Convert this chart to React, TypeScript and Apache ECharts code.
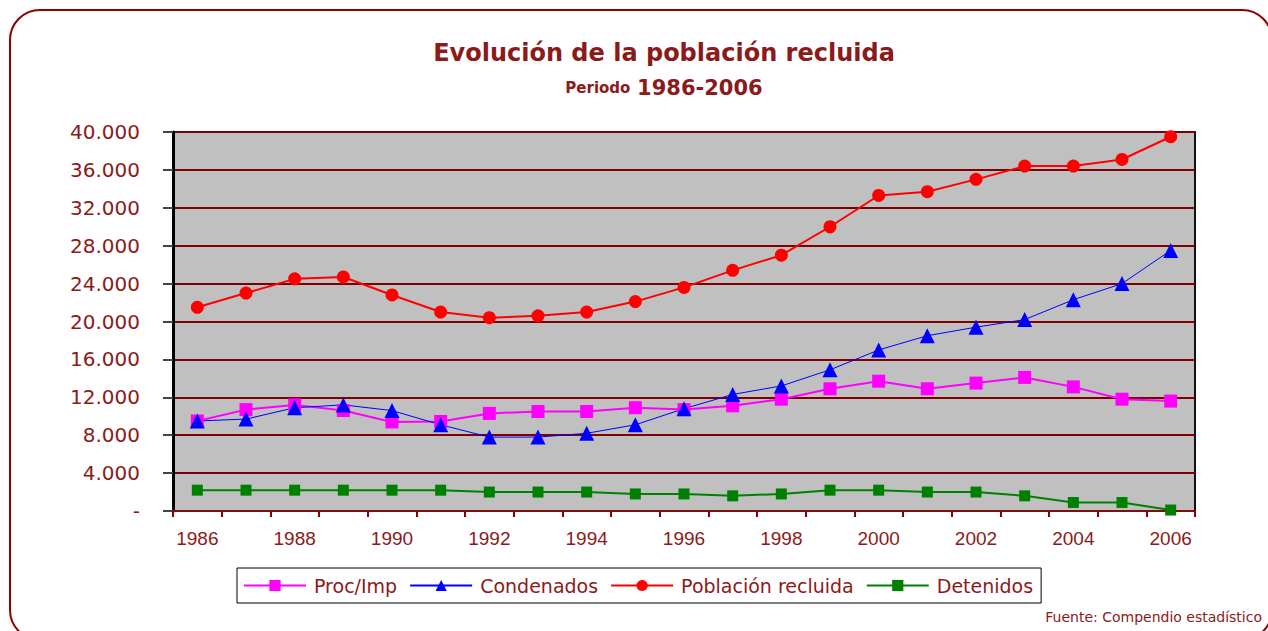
import React, { useEffect, useRef } from "react";
import * as echarts from "echarts";

const years = ["1986","1987","1988","1989","1990","1991","1992","1993","1994","1995","1996","1997","1998","1999","2000","2001","2002","2003","2004","2005","2006"];
const procImp = [9500,10700,11200,10600,9400,9450,10300,10500,10500,10900,10700,11100,11800,12900,13700,12900,13500,14100,13100,11800,11600];
const condenados = [9500,9700,10900,11200,10600,9100,7800,7800,8200,9100,10800,12300,13200,14900,17000,18500,19400,20200,22300,24000,27500];
const poblacion = [21500,23000,24500,24700,22800,21000,20400,20600,21000,22100,23600,25400,27000,30000,33300,33700,35000,36400,36400,37100,39500];
const detenidos = [2200,2200,2200,2200,2200,2200,2000,2000,2000,1800,1800,1600,1800,2200,2200,2000,2000,1600,900,900,100];

const DARK = "#8B1A1A";
const FONT = "Liberation Sans, Arial, sans-serif";
const WIDE = "DejaVu Sans, Verdana, sans-serif";

function fmt(v: number): string {
  if (v === 0) return "-";
  return String(v).replace(/\B(?=(\d{3})+(?!\d))/g, ".");
}

export default function App() {
  const ref = useRef<HTMLDivElement>(null);
  useEffect(() => {
    const chart = echarts.init(ref.current!, null, { renderer: "svg" });
    chart.setOption({
      animation: false,
      backgroundColor: "#fff",
      title: {
        text: "Evolución de la población recluida",
        left: 659,
        textAlign: "center",
        top: 36,
        itemGap: 12,
        textStyle: { color: DARK, fontFamily: WIDE, fontSize: 24, fontWeight: "bold" },
        subtext: "{a|Periodo}  {b|1986-2006}",
        subtextStyle: {
          rich: {
            a: { color: DARK, fontFamily: WIDE, fontSize: 15, fontWeight: "bold" },
            b: { color: DARK, fontFamily: WIDE, fontSize: 21, fontWeight: "bold" },
          },
        },
      },
      graphic: [
        {
          type: "rect",
          shape: { x: 10, y: 10, width: 1262, height: 630, r: 30 },
          style: { fill: "none", stroke: "#8B0000", lineWidth: 2 },
          silent: true,
          z: 100,
        },
        {
          type: "text",
          right: 6,
          top: 610,
          style: { text: "Fuente: Compendio estadístico", fill: DARK, font: `14px ${WIDE}` },
        },
      ],
      legend: {
        left: 237,
        top: 568,
        padding: [8, 8, 8, 6],
        itemGap: 12,
        itemWidth: 62,
        itemHeight: 14,
        borderColor: "#000",
        borderWidth: 1,
        borderRadius: 0,
        textStyle: { color: DARK, fontFamily: WIDE, fontSize: 19, padding: [0, 0, 0, 3] },
        data: ["Proc/Imp", "Condenados", "Población recluida", "Detenidos"],
      },
      grid: {
        left: 173,
        right: 73,
        top: 132,
        bottom: 120,
        show: true,
        backgroundColor: "#C0C0C0",
        borderColor: "#111",
        borderWidth: 2,
      },
      xAxis: {
        type: "category",
        data: years,
        boundaryGap: true,
        axisLine: { lineStyle: { color: "#7A1010", width: 2 } },
        axisTick: { show: true, interval: 0, length: 6, lineStyle: { color: "#8B0000", width: 2 } },
        axisLabel: { interval: 1, color: DARK, fontFamily: FONT, fontSize: 19, margin: 18 },
      },
      yAxis: {
        type: "value",
        min: 0,
        max: 40000,
        interval: 4000,
        axisLine: { show: true, lineStyle: { color: "#000", width: 3 } },
        axisTick: { show: true, length: 10, lineStyle: { color: "#444", width: 2 } },
        axisLabel: { color: DARK, fontFamily: WIDE, fontSize: 20, margin: 33, formatter: fmt },
        splitLine: { show: true, lineStyle: { color: "#800000", width: 2 } },
      },
      series: [
        {
          name: "Proc/Imp",
          type: "line",
          data: procImp,
          symbol: "rect",
          symbolSize: 13,
          lineStyle: { color: "#FF00FF", width: 2 },
          itemStyle: { color: "#FF00FF" },
        },
        {
          name: "Condenados",
          type: "line",
          data: condenados,
          symbol: "triangle",
          symbolSize: 15,
          lineStyle: { color: "#0000FF", width: 1 },
          itemStyle: { color: "#0000FF" },
        },
        {
          name: "Población recluida",
          type: "line",
          data: poblacion,
          symbol: "circle",
          symbolSize: 13,
          lineStyle: { color: "#FF0000", width: 2 },
          itemStyle: { color: "#FF0000" },
        },
        {
          name: "Detenidos",
          type: "line",
          data: detenidos,
          symbol: "rect",
          symbolSize: 11,
          lineStyle: { color: "#008000", width: 2 },
          itemStyle: { color: "#008000" },
        },
      ],
    });
    return () => chart.dispose();
  }, []);
  return (
    <div
      ref={ref}
      style={{ position: "absolute", left: 0, top: 0, width: 1268, height: 631 }}
    />
  );
}
